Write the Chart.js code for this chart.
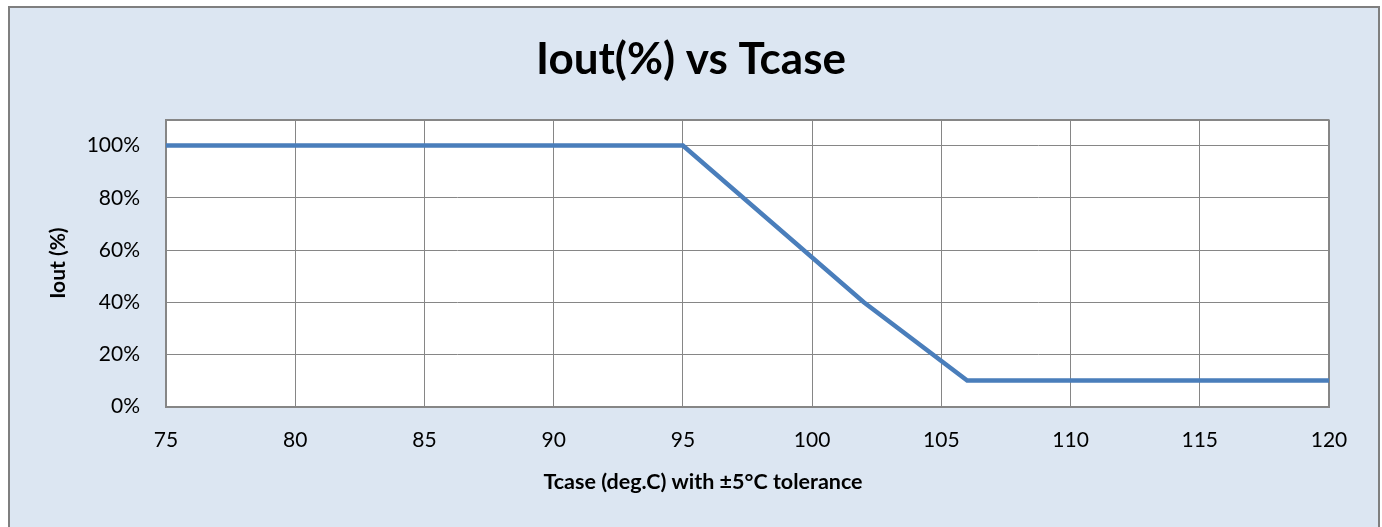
<!DOCTYPE html>
<html>
<head>
<meta charset="utf-8">
<script src="https://cdn.jsdelivr.net/npm/chart.js@4/dist/chart.umd.min.js"></script>
<style>
  html, body { margin: 0; padding: 0; background: #ffffff; width: 1382px; height: 527px; overflow: hidden; }
  #frame { position: absolute; left: 8px; top: 6px; width: 1368px; height: 600px; border: 2px solid #7f7f7f; background: #dce6f2; }
  #c { position: absolute; left: 0; top: 0; }
</style>
</head>
<body>
<div id="frame"></div>
<canvas id="c" width="1382" height="527"></canvas>
<script>
// ---- data ----
const chartTitle = 'Iout(%) vs Tcase';
const xAxisTitle = 'Tcase (deg.C) with \u00b15\u00b0C tolerance';
const yAxisTitle = 'Iout (%)';
const tcase = [75, 95, 102, 106, 120];
const ioutPct = [1.00, 1.00, 0.40, 0.10, 0.10];
const xTicks = [75, 80, 85, 90, 95, 100, 105, 110, 115, 120];
const yTickLabels = ['0%', '20%', '40%', '60%', '80%', '100%'];

const FONT = 'Lato, "Open Sans", "DejaVu Sans", sans-serif';
const GRID = '#868686';

const plotBgPlugin = {
  id: 'plotBg',
  beforeDraw(chart) {
    const a = chart.chartArea;
    const ctx = chart.ctx;
    ctx.save();
    ctx.fillStyle = '#ffffff';
    ctx.fillRect(a.left, a.top, a.right - a.left, a.bottom - a.top);
    ctx.restore();
  }
};

const xTitlePlugin = {
  id: 'xTitle',
  afterDraw(chart) {
    const ctx = chart.ctx;
    ctx.save();
    ctx.font = 'bold 21.5px ' + FONT;
    ctx.fillStyle = '#000';
    ctx.textAlign = 'center';
    ctx.textBaseline = 'middle';
    ctx.fillText(xAxisTitle, 703, 482);
    ctx.restore();
  }
};

new Chart(document.getElementById('c'), {
  type: 'line',
  data: {
    datasets: [{
      data: tcase.map((x, i) => ({ x: x, y: ioutPct[i] })),
      borderColor: '#4a7ebb',
      borderWidth: 4.5,
      pointRadius: 0,
      pointHoverRadius: 0,
      tension: 0,
      fill: false
    }]
  },
  options: {
    responsive: false,
    animation: false,
    events: [],
    layout: { padding: 0 },
    plugins: {
      legend: { display: false },
      tooltip: { enabled: false },
      title: {
        display: true,
        text: chartTitle,
        color: '#000',
        font: { family: FONT, size: 44, weight: 'bold', lineHeight: 1.2 },
        padding: { top: 33, bottom: 33.7 }
      }
    },
    scales: {
      x: {
        type: 'linear',
        min: 75, max: 120,
        afterBuildTicks(scale) { scale.ticks = xTicks.map(v => ({ value: v })); },
        afterFit(scale) { scale.height = 120.3; },
        ticks: {
          stepSize: 5,
          color: '#000',
          padding: 21,
          font: { family: FONT, size: 21 },
          maxRotation: 0,
          callback: (v) => String(v)
        },
        grid: {
          color: GRID,
          drawTicks: false,
          lineWidth: (c) => (c.tick && c.tick.value === 120 ? 2 : 1)
        },
        border: { color: GRID, width: 2 },
        title: { display: false }
      },
      y: {
        type: 'linear',
        min: 0, max: 1.1,
        afterFit(scale) { scale.width = 166; },
        ticks: {
          stepSize: 0.2,
          color: '#000',
          padding: 26,
          font: { family: FONT, size: 21 },
          callback: (v) => {
            const idx = Math.round(v / 0.2);
            return (Math.abs(v - idx * 0.2) < 1e-6 && idx < yTickLabels.length) ? yTickLabels[idx] : '';
          }
        },
        grid: {
          color: GRID,
          drawTicks: false,
          lineWidth: (c) => (c.tick && c.tick.value > 1.05 ? 2 : 1)
        },
        border: { color: GRID, width: 2 },
        title: {
          display: true,
          text: yAxisTitle,
          color: '#000',
          font: { family: FONT, size: 21, weight: 'bold', lineHeight: 1.2 },
          padding: { top: 46, bottom: 0 }
        }
      },
      yRightSpacer: {
        type: 'linear',
        position: 'right',
        min: 0, max: 1.1,
        afterFit(scale) { scale.width = 53; },
        ticks: { display: false },
        grid: { display: false, drawOnChartArea: false },
        border: { display: false }
      }
    }
  },
  plugins: [plotBgPlugin, xTitlePlugin]
});
</script>
</body>
</html>
